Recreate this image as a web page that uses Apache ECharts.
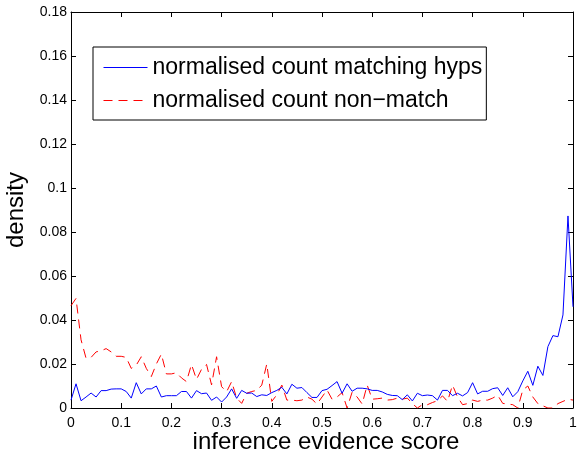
<!DOCTYPE html>
<html>
<head>
<meta charset="utf-8">
<script src="https://cdn.jsdelivr.net/npm/echarts@6/dist/echarts.min.js"></script>
<style>
  html, body { margin: 0; padding: 0; background: #fff; }
  #chart { width: 580px; height: 465px; }
</style>
</head>
<body>
<div id="chart"></div>
<script>
// bin positions 0, 0.01, ... 1.00
const bins = Array.from({ length: 101 }, (_, k) => +(k / 100).toFixed(2));

const matching = [
  0.0036, 0.011, 0.0033, 0.005, 0.0068, 0.005, 0.0079, 0.0079, 0.0086, 0.0087,
  0.0087, 0.0075, 0.0045, 0.0115, 0.0064, 0.0087, 0.0087, 0.010, 0.005, 0.0056,
  0.0056, 0.0056, 0.0075, 0.0075, 0.0045, 0.0079, 0.0065, 0.0068, 0.0035, 0.005,
  0.0027, 0.005, 0.0087, 0.0044, 0.008, 0.0067, 0.0068, 0.0052, 0.006, 0.0057,
  0.007, 0.008, 0.0094, 0.0064, 0.0108, 0.009, 0.0093, 0.007, 0.0048, 0.0048,
  0.0079, 0.0085, 0.0102, 0.012, 0.0067, 0.011, 0.0076, 0.009, 0.009, 0.0087,
  0.008, 0.008, 0.0073, 0.0062, 0.0057, 0.0056, 0.0038, 0.006, 0.0032, 0.0067,
  0.0056, 0.0059, 0.0056, 0.0036, 0.008, 0.008, 0.0056, 0.0067, 0.0055, 0.007,
  0.0115, 0.0064, 0.0076, 0.0076, 0.0088, 0.0092, 0.0057, 0.0092, 0.0051, 0.0074,
  0.0123, 0.0167, 0.0103, 0.019, 0.0148, 0.0279, 0.0329, 0.0324, 0.0423, 0.0873,
  0.046
];

const nonMatch = [
  0.0465, 0.0498, 0.031, 0.0226, 0.023, 0.0255, 0.026, 0.027, 0.0255, 0.0235,
  0.0235, 0.023, 0.018, 0.0195, 0.0233, 0.018, 0.0143, 0.020, 0.0245, 0.0155,
  0.0155, 0.016, 0.0137, 0.012, 0.0198, 0.013, 0.0176, 0.0198, 0.0105, 0.0233,
  0.0097, 0.0074, 0.012, 0.0045, 0.0021, 0.0067, 0.0075, 0.008, 0.0104, 0.020,
  0.003, 0.006, 0.0104, 0.0036, 0.0036, 0.0033, 0.0036, 0.005, 0.004, 0.0018,
  0.005, 0.0082, 0.004, 0.005, 0.007, 0.0, 0.0072, 0.005, 0.0018, 0.0104,
  0.004, 0.0042, 0.0045, 0.0036, 0.0038, 0.0045, 0.004, 0.0045, 0.002, 0.0,
  0.0015, 0.0015, 0.0025, 0.0033, 0.0055, 0.003, 0.0104, 0.005, 0.0015, 0.002,
  0.0036, 0.003, 0.0036, 0.0036, 0.0045, 0.0058, 0.0021, 0.0018, 0.0015, 0.0,
  0.0082, 0.010, 0.005, 0.002, 0.001, 0.0, 0.0, 0.002, 0.003, 0.004,
  0.0036
];

const xTicks = ['0', '0.1', '0.2', '0.3', '0.4', '0.5', '0.6', '0.7', '0.8', '0.9', '1'];
const yTicks = ['0', '0.02', '0.04', '0.06', '0.08', '0.1', '0.12', '0.14', '0.16', '0.18'];

const seriesNames = ['normalised count matching hyps', 'normalised count non\u2212match'];

const font = 'Liberation Sans, Arial, Helvetica, sans-serif';

function pairs(vals) {
  return vals.map((v, i) => [bins[i], v]);
}

const boxAxis = {
  axisLine: { show: true, onZero: false, lineStyle: { color: '#000', width: 1 } },
  axisTick: { show: true, inside: true, length: 5, lineStyle: { color: '#000' } },
  splitLine: { show: false }
};

const chart = echarts.init(document.getElementById('chart'), null, { renderer: 'canvas' });

chart.setOption({
  animation: false,
  backgroundColor: '#fff',
  textStyle: { fontFamily: font },
  grid: { left: 71, right: 7, top: 12, bottom: 57, outerBoundsMode: 'none', containLabel: false },
  legend: {
    orient: 'vertical',
    left: 93,
    top: 47,
    padding: [9, 4, 8, 10],
    itemGap: 10,
    itemWidth: 44,
    itemHeight: 14,
    backgroundColor: '#fff',
    borderColor: '#000',
    borderWidth: 1,
    borderRadius: 0,
    itemStyle: { opacity: 0 },
    lineStyle: { width: 1 },
    textStyle: { fontSize: 23, color: '#000', fontFamily: font },
    data: seriesNames
  },
  xAxis: [
    Object.assign({}, boxAxis, {
      type: 'value', min: 0, max: 1, interval: 0.1, position: 'bottom',
      axisLabel: {
        color: '#000', fontSize: 14, margin: 8,
        formatter: v => xTicks[Math.round(v * 10)]
      },
      name: 'inference evidence score',
      nameLocation: 'middle',
      nameMoveOverlap: false,
      nameGap: 22,
      nameTextStyle: { fontSize: 24, color: '#000', padding: [0, 0, 0, 8] }
    }),
    Object.assign({}, boxAxis, {
      type: 'value', min: 0, max: 1, interval: 0.1, position: 'top',
      axisLabel: { show: false }
    })
  ],
  yAxis: [
    Object.assign({}, boxAxis, {
      type: 'value', min: 0, max: 0.18, interval: 0.02, position: 'left',
      axisLabel: {
        color: '#000', fontSize: 14, margin: 4,
        formatter: v => yTicks[Math.round(v * 50)]
      },
      name: 'density',
      nameLocation: 'middle',
      nameGap: 40,
      nameTextStyle: { fontSize: 24, color: '#000' }
    }),
    Object.assign({}, boxAxis, {
      type: 'value', min: 0, max: 0.18, interval: 0.02, position: 'right',
      axisLabel: { show: false }
    })
  ],
  series: [
    {
      name: seriesNames[0],
      type: 'line',
      symbol: 'none',
      lineStyle: { color: '#0000ff', width: 1 },
      itemStyle: { color: '#0000ff' },
      data: pairs(matching),
      z: 3
    },
    {
      name: seriesNames[1],
      type: 'line',
      symbol: 'none',
      lineStyle: { color: '#ff0000', width: 1, type: [9, 6] },
      itemStyle: { color: '#ff0000' },
      data: pairs(nonMatch),
      z: 2
    }
  ]
});
</script>
</body>
</html>
